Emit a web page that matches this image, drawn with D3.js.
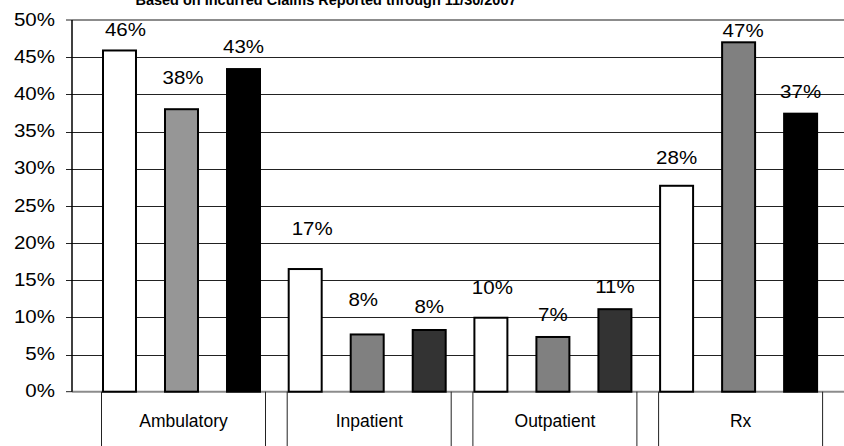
<!DOCTYPE html>
<html>
<head>
<meta charset="utf-8">
<script src="https://cdn.jsdelivr.net/npm/d3@7"></script>
<style>
  body { margin: 0; background: #fff; }
  text { font-family: "Liberation Sans", Arial, sans-serif; fill: #000; }
</style>
</head>
<body>
<div id="chart"></div>
<script>
const W = 844, H = 446;

// data
const categories = ["Ambulatory", "Inpatient", "Outpatient", "Rx"];
const series1 = [45.9, 16.5, 9.95, 27.7];
const series2 = [38.0, 7.7, 7.36, 47.0];
const series3 = [43.4, 8.3, 11.1, 37.4];
const labels1 = ["46%", "17%", "10%", "28%"];
const labels2 = ["38%", "8%", "7%", "47%"];
const labels3 = ["43%", "8%", "11%", "37%"];
const yTicks = [0, 5, 10, 15, 20, 25, 30, 35, 40, 45, 50];
const titleText = "Based on Incurred Claims Reported through 11/30/2007";

// styles (per series, per category)
const fills = [
  ["#ffffff", "#ffffff", "#ffffff", "#ffffff"],
  ["#969696", "#808080", "#808080", "#808080"],
  ["#000000", "#333333", "#333333", "#000000"]
];
// hand-placed data labels: [dx, raise above bar top]
const labelNudge = [
  [[6, 14], [7, 34], [1.5, 24], [0, 22]],
  [[1.5, 25], [-4, 28], [0, 16], [4.5, 5]],
  [[0, 16], [0, 17], [0, 16], [0, 16]]
];
const NUM_STRETCH = 1.14; // number text in the reference is drawn a bit wide

const series = [series1, series2, series3];
const labels = [labels1, labels2, labels3];

const AXIS_X = 72, TOP = 20, BOTTOM = 391.7;

const svg = d3.select("#chart").append("svg")
  .attr("width", W).attr("height", H);

const y = d3.scaleLinear().domain([0, 50]).range([BOTTOM, TOP]);
const x = d3.scaleBand().domain(categories).range([88.65, 831.45]).padding(0);
const xs = d3.scaleBand().domain([0, 1, 2]).range([-78.5, 78.5]).paddingInner(0.468).paddingOuter(0);

// title (clipped at top edge, as in the source)
svg.append("text")
  .attr("x", 326).attr("y", 5)
  .attr("text-anchor", "middle")
  .style("font-size", "14.5px").style("font-weight", "bold")
  .text(titleText);

// gridlines
svg.append("g").selectAll("line")
  .data(yTicks.filter(d => d > 0 && d < 50))
  .join("line")
  .attr("x1", AXIS_X - 6).attr("x2", W)
  .attr("y1", d => Math.round(y(d)) + 0.5).attr("y2", d => Math.round(y(d)) + 0.5)
  .attr("stroke", "#222").attr("stroke-width", 1);

// top and base lines (gray)
[50, 0].forEach(v => {
  svg.append("line")
    .attr("x1", AXIS_X).attr("x2", W)
    .attr("y1", y(v)).attr("y2", y(v))
    .attr("stroke", "#8c8c8c").attr("stroke-width", 2);
  svg.append("line")
    .attr("x1", AXIS_X - 6).attr("x2", AXIS_X)
    .attr("y1", y(v)).attr("y2", y(v))
    .attr("stroke", "#222").attr("stroke-width", 1);
});

// y axis line
svg.append("line")
  .attr("x1", AXIS_X).attr("x2", AXIS_X)
  .attr("y1", y(50)).attr("y2", y(0))
  .attr("stroke", "#000").attr("stroke-width", 1.5);

// y tick labels
svg.append("g").selectAll("text")
  .data(yTicks)
  .join("text")
  .attr("transform", d => "translate(55," + y(d) + ") scale(" + NUM_STRETCH + ",1)")
  .attr("dy", "0.32em")
  .attr("text-anchor", "end")
  .style("font-size", "18px")
  .text(d => d + "%");

// category boxes
const cat = svg.append("g").selectAll("g")
  .data(categories)
  .join("g")
  .attr("transform", d => "translate(" + (x(d) + x.bandwidth() / 2 + 2) + ",0)");
cat.append("line")
  .attr("x1", -82).attr("x2", -82).attr("y1", y(0)).attr("y2", H)
  .attr("stroke", "#222").attr("stroke-width", 1);
cat.append("line")
  .attr("x1", 82).attr("x2", 82).attr("y1", y(0)).attr("y2", H)
  .attr("stroke", "#222").attr("stroke-width", 1);
cat.append("text")
  .attr("x", 0).attr("y", 427)
  .attr("text-anchor", "middle")
  .style("font-size", "17.5px")
  .text(d => d);

// bars
series.forEach((vals, s) => {
  const g = svg.append("g");
  g.selectAll("rect")
    .data(vals)
    .join("rect")
    .attr("x", (d, i) => x(categories[i]) + x.bandwidth() / 2 + xs(s))
    .attr("width", xs.bandwidth())
    .attr("y", d => y(d))
    .attr("height", d => y(0) - y(d))
    .attr("fill", (d, i) => fills[s][i])
    .attr("stroke", "#000").attr("stroke-width", 2);
  g.selectAll("text")
    .data(vals)
    .join("text")
    .attr("transform", (d, i) => {
      const cx = x(categories[i]) + x.bandwidth() / 2 + xs(s) + xs.bandwidth() / 2 + labelNudge[s][i][0];
      return "translate(" + cx + "," + (y(d) - labelNudge[s][i][1]) + ") scale(" + NUM_STRETCH + ",1)";
    })
    .attr("text-anchor", "middle")
    .style("font-size", "18px")
    .text((d, i) => labels[s][i]);
});
</script>
</body>
</html>
